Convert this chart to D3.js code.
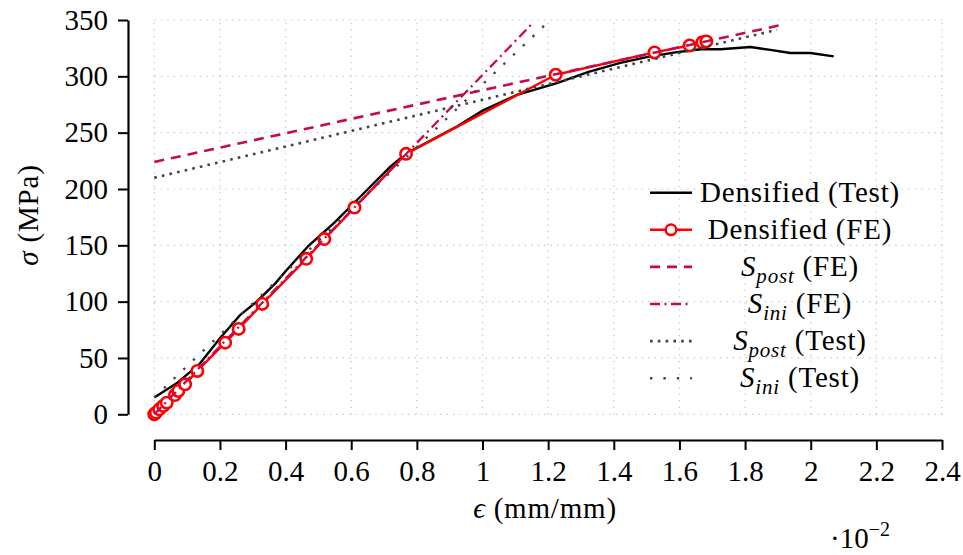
<!DOCTYPE html>
<html>
<head>
<meta charset="utf-8">
<script src="https://cdn.jsdelivr.net/npm/d3@7"></script>
<style>
  body { margin: 0; background: #fff; }
  text { font-family: "Liberation Serif", "DejaVu Serif", serif; fill: #000; }
</style>
</head>
<body>
<script>
// strain in 1e-2 mm/mm, stress in MPa
const testStrain = [0, 0.068, 0.139, 0.2, 0.261, 0.312, 0.368, 0.4, 0.468, 0.548, 0.617, 0.72, 0.77,
  0.922, 1.003, 1.105, 1.227, 1.323, 1.42, 1.5, 1.582, 1.664, 1.725, 1.816, 1.877, 1.938, 1.999, 2.07];
const testStress = [15, 27.5, 45, 67.5, 88, 100, 116, 127, 149, 170, 190, 220, 232,
  255.5, 270, 283.5, 294, 304, 312, 317, 321, 324, 324, 326, 323.5, 320.7, 320.7, 317.7];

const feStrain = [0, 0.005, 0.015, 0.027, 0.038, 0.063, 0.073, 0.094, 0.131, 0.216, 0.257, 0.329,
  0.463, 0.518, 0.61, 0.767, 1.223, 1.524, 1.631, 1.67, 1.682];
const feStress = [0, 1.4, 4.4, 7.4, 10.3, 17.1, 20.7, 26.6, 38.5, 63.6, 75.8, 98,
  138, 155.5, 183.5, 231.2, 301.4, 321.2, 327.4, 330.2, 331];

// fitted stiffness lines: [start, end]
const sPostFE = [[0, 224], [1.902, 345.1]];
const sIniFE = [[0, 0], [1.151, 346.7]];
const sPostTest = [[0, 210], [1.897, 341.3]];
const sIniTest = [[0, 15], [1.198, 347.8]];

const xTicks = [0, 0.2, 0.4, 0.6, 0.8, 1, 1.2, 1.4, 1.6, 1.8, 2, 2.2, 2.4];
const yTicks = [0, 50, 100, 150, 200, 250, 300, 350];

const width = 963, height = 555;
const crimson = "#c70a4b";
const gray = "#444";

const x = d3.scaleLinear().domain([0, 2.4]).range([154.3, 942]);
const y = d3.scaleLinear().domain([0, 350]).range([414.3, 20]);

const svg = d3.select("body").append("svg")
  .attr("width", width)
  .attr("height", height)
  .attr("viewBox", [0, 0, width, height]);

// grid
const grid = svg.append("g")
  .attr("stroke", "#c4c4c4")
  .attr("stroke-width", 1.2)
  .attr("stroke-dasharray", "1.3,5.2");
grid.selectAll(".gx").data(xTicks).join("line")
  .attr("x1", d => x(d)).attr("x2", d => x(d))
  .attr("y1", y(0)).attr("y2", y(350));
grid.selectAll(".gy").data(yTicks).join("line")
  .attr("x1", x(0)).attr("x2", x(2.4))
  .attr("y1", d => y(d)).attr("y2", d => y(d));

// axes, pulled away from the plot area
const xAxis = svg.append("g")
  .attr("transform", "translate(0,440)")
  .call(d3.axisBottom(x).tickValues(xTicks).tickSize(10).tickSizeOuter(0).tickPadding(10)
    .tickFormat(d => d3.format("~g")(d)));
const yAxis = svg.append("g")
  .attr("transform", "translate(128,0)")
  .call(d3.axisLeft(y).tickValues(yTicks).tickSize(10).tickSizeOuter(0).tickPadding(10));

[xAxis, yAxis].forEach(a => {
  a.select(".domain").attr("stroke-width", 2.2);
  a.selectAll(".tick line").attr("stroke-width", 2);
  a.selectAll("text").attr("font-size", 29).attr("font-family", "Liberation Serif");
});

svg.append("text")
  .attr("x", 545).attr("y", 518)
  .attr("text-anchor", "middle")
  .attr("font-size", 29)
  .attr("letter-spacing", 0.8)
  .call(t => {
    t.append("tspan").attr("font-style", "italic").text("ϵ");
    t.append("tspan").text(" (mm/mm)");
  });

svg.append("text")
  .attr("transform", "translate(38,215) rotate(-90)")
  .attr("text-anchor", "middle")
  .attr("font-size", 29)
  .attr("letter-spacing", 0.8)
  .call(t => {
    t.append("tspan").attr("font-style", "italic").text("σ");
    t.append("tspan").text(" (MPa)");
  });

svg.append("text")
  .attr("x", 830).attr("y", 548)
  .attr("font-size", 29)
  .call(t => {
    t.append("tspan").text("·10");
    t.append("tspan").attr("font-size", 20).attr("dy", -12).text("−2");
  });

// curves
const line = d3.line().x(d => x(d[0])).y(d => y(d[1]));
const testData = testStrain.map((e, i) => [e, testStress[i]]);
const feData = feStrain.map((e, i) => [e, feStress[i]]);

svg.append("path").datum(testData)
  .attr("d", line).attr("fill", "none")
  .attr("stroke", "#000").attr("stroke-width", 2.4).attr("stroke-linejoin", "round");

svg.append("path").datum(feData)
  .attr("d", line).attr("fill", "none")
  .attr("stroke", "#ff0000").attr("stroke-width", 2.4).attr("stroke-linejoin", "round");
svg.selectAll(".fe").data(feData).join("circle")
  .attr("cx", d => x(d[0])).attr("cy", d => y(d[1])).attr("r", 5.7)
  .attr("fill", "#fff").attr("stroke", "#ff0000").attr("stroke-width", 2.6);

const styles = [
  {data: sPostFE, color: crimson, dash: "10,7", w: 2.6},
  {data: sIniFE, color: crimson, dash: "10,4.5,2,4.5", w: 2.3},
  {data: sPostTest, color: gray, dash: "2.6,5.2", w: 2.6},
  {data: sIniTest, color: gray, dash: "2.4,11", w: 2.4}
];
styles.forEach(s => {
  svg.append("path").datum(s.data)
    .attr("d", line).attr("fill", "none")
    .attr("stroke", s.color).attr("stroke-width", s.w).attr("stroke-dasharray", s.dash);
});

// legend
const legendItems = [
  {label: "Densified (Test)", color: "#000", dash: null, w: 2.4},
  {label: "Densified (FE)", color: "#ff0000", dash: null, w: 2.4, marker: true},
  {label: "S|post| (FE)", color: crimson, dash: "10,7", w: 2.6},
  {label: "S|ini| (FE)", color: crimson, dash: "10,4.5,2,4.5", w: 2.3},
  {label: "S|post| (Test)", color: gray, dash: "2.6,5.2", w: 2.6},
  {label: "S|ini| (Test)", color: gray, dash: "2.4,11", w: 2.4}
];
const legend = svg.append("g");
legendItems.forEach((it, i) => {
  const ly = 192.7 + i * 37.1;
  legend.append("line")
    .attr("x1", 650).attr("x2", 692).attr("y1", ly).attr("y2", ly)
    .attr("stroke", it.color).attr("stroke-width", it.w)
    .attr("stroke-dasharray", it.dash);
  if (it.marker) {
    legend.append("circle").attr("cx", 671).attr("cy", ly).attr("r", 5.3)
      .attr("fill", "#fff").attr("stroke", it.color).attr("stroke-width", 2.5);
  }
  const t = legend.append("text")
    .attr("x", 800).attr("y", ly + 9)
    .attr("text-anchor", "middle")
    .attr("font-size", 29)
    .attr("letter-spacing", 0.8);
  const parts = it.label.split("|");
  if (parts.length === 1) {
    t.text(it.label);
  } else {
    t.append("tspan").attr("font-style", "italic").text(parts[0]);
    t.append("tspan").attr("font-style", "italic").attr("font-size", 21).attr("dy", 7).text(parts[1]);
    t.append("tspan").attr("dy", -7).text(parts[2]);
  }
});
</script>
</body>
</html>
